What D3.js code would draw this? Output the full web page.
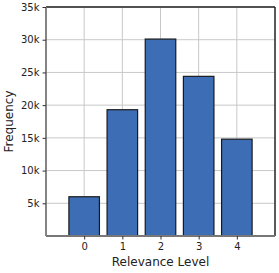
<!DOCTYPE html>
<html><head><meta charset="utf-8">
<script src="https://cdn.jsdelivr.net/npm/d3@7"></script>
<style>body{margin:0;background:#fff}svg{display:block}text{font-family:"DejaVu Sans",sans-serif}</style>
</head><body>
<script>
const categories = [0, 1, 2, 3, 4];
const frequencies = [6000, 19300, 30100, 24400, 14800];
const yTicks = [5000, 10000, 15000, 20000, 25000, 30000, 35000];
const xLabel = "Relevance Level";
const yLabel = "Frequency";

const W = 279, H = 273;
const m = {left: 46, right: 4, top: 7, bottom: 37};
const svg = d3.select("body").append("svg").attr("width", W).attr("height", H);
const x = d3.scaleLinear().domain([-1, 5]).range([m.left, W - m.right]);
const y = d3.scaleLinear().domain([0, 35000]).range([H - m.bottom, m.top]);

const g = svg.append("g");
// grid
g.selectAll(".vg").data(categories).enter().append("line")
  .attr("x1", d => x(d)).attr("x2", d => x(d)).attr("y1", y(0)).attr("y2", y(35000))
  .attr("stroke", "#c8c8c8").attr("stroke-width", 1);
g.selectAll(".hg").data(yTicks).enter().append("line")
  .attr("x1", x(-1)).attr("x2", x(5)).attr("y1", d => y(d)).attr("y2", d => y(d))
  .attr("stroke", "#c8c8c8").attr("stroke-width", 1);

// bars
const bw = (x(1) - x(0)) * 0.8;
g.selectAll(".bar").data(frequencies).enter().append("rect")
  .attr("x", (d, i) => x(categories[i]) - bw / 2)
  .attr("y", d => y(d))
  .attr("width", bw)
  .attr("height", d => y(0) - y(d))
  .attr("fill", "#3d6db4").attr("stroke", "#1a1a1a").attr("stroke-width", 1.2);

// spines
svg.append("line").attr("x1", x(-1)).attr("x2", x(5)).attr("y1", y(35000)).attr("y2", y(35000)).attr("stroke", "#222").attr("stroke-width", 1.5);
svg.append("line").attr("x1", x(5)).attr("x2", x(5)).attr("y1", y(0)).attr("y2", y(35000)).attr("stroke", "#222").attr("stroke-width", 1.5);

// axes
const xAxis = svg.append("g").attr("transform", `translate(0,${y(0)})`)
  .call(d3.axisBottom(x).tickValues(categories).tickFormat(d3.format("d")).tickSizeOuter(0).tickSize(3.5).tickPadding(3));
const yAxis = svg.append("g").attr("transform", `translate(${x(-1)},0)`)
  .call(d3.axisLeft(y).tickValues(yTicks).tickFormat(d => (d / 1000) + "k").tickSizeOuter(0).tickSize(3.5).tickPadding(3));
[xAxis, yAxis].forEach(a => {
  a.select(".domain").attr("stroke", "#777").attr("stroke-width", 1.8);
  a.selectAll(".tick line").attr("stroke", "#333");
  a.selectAll("text").attr("font-size", 10).attr("fill", "#222").attr("font-family", "DejaVu Sans");
});
xAxis.select(".domain").attr("d", `M${x(-1)},0H${x(5)}`);
yAxis.select(".domain").attr("d", `M0,${y(0)}V${y(35000)}`);

svg.append("text").attr("x", (x(-1) + x(5)) / 2).attr("y", 266).attr("text-anchor", "middle")
  .attr("font-size", 12).attr("fill", "#222").text(xLabel);
svg.append("text").attr("transform", `translate(13,${(y(0) + y(35000)) / 2}) rotate(-90)`)
  .attr("text-anchor", "middle").attr("font-size", 12).attr("fill", "#222").text(yLabel);
</script>
</body></html>
